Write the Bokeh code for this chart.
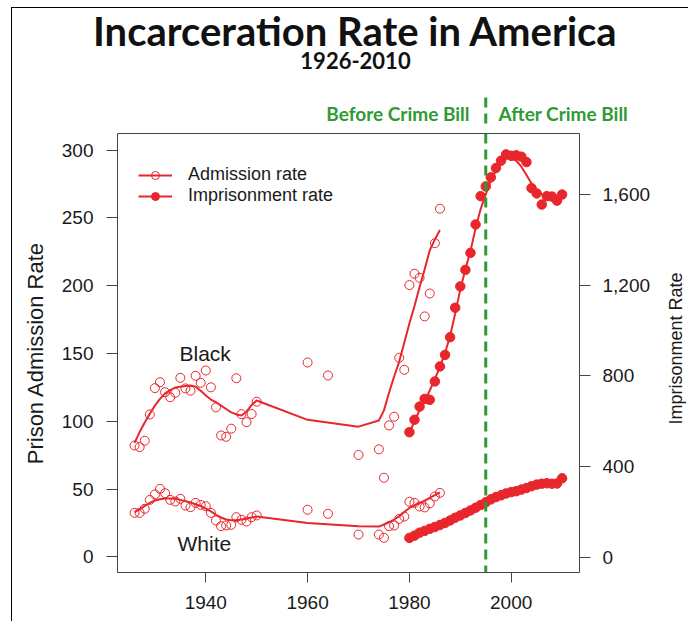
import math
from bokeh.plotting import figure
from bokeh.layouts import column, row
from bokeh.models import (Range1d, LinearAxis, FixedTicker, NumeralTickFormatter,
                          Label, Span, Legend, LegendItem)
from bokeh.embed import file_html
from bokeh.resources import INLINE

# ---------------- data ----------------
adm_years = [1926, 1927, 1928, 1929, 1930, 1931, 1932, 1933, 1934, 1935, 1936, 1937, 1938,
             1939, 1940, 1941, 1942, 1943, 1944, 1945, 1946, 1947, 1948, 1949, 1950,
             1960, 1964, 1970, 1974, 1975, 1976, 1977, 1978, 1979, 1980, 1981, 1982,
             1983, 1984, 1985, 1986]
black_adm = [82.1, 80.9, 85.6, 105.0, 124.4, 128.8, 121.4, 117.7, 121.0, 132.0, 124.2, 122.5, 133.5,
             128.3, 137.4, 125.0, 110.2, 89.5, 88.5, 94.5, 131.7, 105.2, 99.3, 105.3, 114.4,
             143.3, 133.7, 75.1, 79.3, 58.3, 96.9, 103.3, 146.8, 137.9, 200.4, 208.8, 205.8,
             177.3, 194.2, 231.3, 256.7]
white_adm = [32.4, 32.4, 35.4, 42.0, 46.0, 50.1, 46.9, 42.0, 40.8, 42.8, 37.8, 36.6, 39.8,
             38.3, 37.3, 32.4, 26.8, 22.6, 23.1, 23.6, 29.2, 27.3, 26.0, 29.2, 30.5,
             34.7, 31.7, 16.4, 16.4, 14.0, 22.6, 23.1, 28.0, 29.7, 40.6, 39.8, 37.1,
             36.4, 39.5, 44.5, 47.2]

fit_years = [1926, 1927, 1928, 1929, 1930, 1931, 1932, 1933, 1934, 1935, 1936, 1937, 1938,
             1939, 1940, 1941, 1942, 1943, 1944, 1945, 1946, 1947, 1948, 1949, 1950,
             1960, 1970, 1974, 1975, 1976, 1977, 1978, 1979, 1980, 1981, 1982, 1983,
             1984, 1985, 1986]
black_adm_fit = [84.0, 92.0, 99.0, 105.5, 111.5, 116.5, 120.5, 123.0, 124.8, 125.5, 126.0, 126.3, 125.5,
                 122.5, 119.0, 116.0, 114.0, 111.5, 109.0, 106.5, 105.0, 104.2, 107.0, 112.0, 115.3,
                 101.0, 96.0, 100.5, 108.0, 121.0, 133.0, 144.0, 158.0, 172.0, 185.0, 199.0, 212.0,
                 226.0, 234.0, 241.0]
white_adm_fit = [33.0, 35.0, 37.5, 39.8, 41.5, 42.5, 43.0, 43.0, 42.8, 42.0, 41.0, 40.0, 38.8,
                 37.5, 35.5, 33.5, 31.0, 29.0, 27.5, 27.0, 27.0, 27.5, 28.0, 29.0, 29.7,
                 25.0, 22.6, 22.3, 23.8, 25.5, 27.5, 30.0, 33.0, 36.0, 38.0, 39.5, 41.5,
                 43.5, 45.5, 47.5]

imp_years = [1980, 1981, 1982, 1983, 1984, 1985, 1986, 1987, 1988, 1989, 1990, 1991, 1992,
             1993, 1994, 1995, 1996, 1997, 1998, 1999, 2000, 2001, 2002, 2003, 2004, 2005,
             2006, 2007, 2008, 2009, 2010]
black_imp = [551, 606, 664, 698, 694, 775, 841, 892, 970, 1100, 1194, 1267, 1342,
             1467, 1592, 1635, 1675, 1716, 1748, 1776, 1770, 1772, 1766, 1742, 1627, 1604,
             1555, 1592, 1590, 1572, 1599]
black_imp_fit = [548, 600, 648, 690, 735, 785, 840, 900, 975, 1075, 1180, 1270, 1350,
                 1450, 1535, 1600, 1660, 1705, 1740, 1758, 1760, 1748, 1722, 1685, 1648, 1618,
                 1600, 1592, 1588, 1585, 1585]
white_imp = [85, 95, 108, 116, 125, 133, 142, 151, 162, 174, 184, 195, 206,
             218, 230, 242, 255, 265, 273, 281, 287, 291, 298, 305, 313, 320,
             324, 326, 324, 325, 348]

x_ticks = [1940, 1960, 1980, 2000]
left_ticks = [0, 50, 100, 150, 200, 250, 300]
right_ticks = [0, 400, 800, 1200, 1600]
crime_bill_year = 1995

title_text = "Incarceration Rate in America"
subtitle_text = "1926-2010"

# ---------------- styling / layout ----------------
RED = "#e8262c"
GREEN = "#2f9a34"
INK = "#1a1a1a"
AXC = "#444444"
SANS = "Liberation Sans"
HEAD = "Lato"

OX, OY = 12, 8            # content origin on the page (after margin + border)
PAGE_W, PAGE_H = 688, 621
FW = PAGE_W - OX          # full content width
TOP_H = 120               # height of the heading strip
MAIN_H = PAGE_H - OY - TOP_H
RS_W = 30                 # strip that holds the right axis title

X0, X1 = 1922.65, 2013.42
YL0, YL1 = -11.58, 312.2
YR0, YR1 = -67.5, 1868.2
FL, FR, FT, FB = 117, 579, 133, 572   # frame edges in page pixels
BASE = 0.4                # label anchor correction (fraction of font size)


def px_x(px):
    return X0 + (px - FL) * (X1 - X0) / (FR - FL)


def py_y(py):
    return YL0 + (FB - py) * (YL1 - YL0) / (FB - FT)


def bare(fig):
    fig.axis.visible = False
    fig.grid.visible = False
    fig.outline_line_color = None
    fig.title.visible = False
    fig.background_fill_color = "white"
    fig.border_fill_color = "white"
    if "frame_align" in fig.properties():
        fig.frame_align = False


# ---------------- heading strip (page pixel coordinates vertically) ----------------
top = figure(width=FW, height=TOP_H, output_backend="svg", toolbar_location=None,
             x_range=Range1d(px_x(OX), px_x(PAGE_W)),
             y_range=Range1d(OY + TOP_H, OY),
             min_border_left=0, min_border_right=0, min_border_top=0, min_border_bottom=0)
bare(top)

top.segment(x0=[crime_bill_year], y0=[97], x1=[crime_bill_year], y1=[OY + TOP_H + 2],
            line_color=GREEN, line_width=3, line_dash="10 6")
top.add_layout(Label(x=px_x(355), y=46 - BASE * 40, text=title_text, text_align="center",
                     text_baseline="alphabetic", text_font=HEAD, text_font_style="bold",
                     text_font_size="40px", text_color="#111111"))
top.add_layout(Label(x=px_x(355), y=69 - BASE * 22, text=subtitle_text, text_align="center",
                     text_baseline="alphabetic", text_font=HEAD, text_font_style="bold",
                     text_font_size="22px", text_color="#111111"))
top.add_layout(Label(x=px_x(469), y=121 - BASE * 19, text="Before Crime Bill",
                     text_align="right", text_baseline="alphabetic", text_font=HEAD,
                     text_font_style="bold", text_font_size="19px", text_color=GREEN))
top.add_layout(Label(x=px_x(498), y=121 - BASE * 19, text="After Crime Bill",
                     text_align="left", text_baseline="alphabetic", text_font=HEAD,
                     text_font_style="bold", text_font_size="19px", text_color=GREEN))

# ---------------- main chart ----------------
main_top = OY + TOP_H
p = figure(width=FW - RS_W, height=MAIN_H, output_backend="svg", toolbar_location=None,
           x_range=Range1d(X0, X1), y_range=Range1d(YL0, YL1),
           min_border_left=FL - OX, min_border_right=PAGE_W - RS_W - FR,
           min_border_top=FT - main_top, min_border_bottom=PAGE_H - FB)
p.title.visible = False
p.extra_y_ranges = {"imp": Range1d(YR0, YR1)}
p.xgrid.grid_line_color = None
p.ygrid.grid_line_color = None
p.outline_line_color = AXC
p.outline_line_width = 1
p.outline_line_alpha = 1
p.background_fill_color = "white"
p.border_fill_color = "white"
if "frame_align" in p.properties():
    p.frame_align = False

right = LinearAxis(y_range_name="imp")
p.add_layout(right, "right")

for ax in [p.xaxis[0], p.yaxis[0], right]:
    ax.axis_line_color = None
    ax.major_tick_line_color = AXC
    ax.major_tick_in = 0
    ax.major_tick_out = 11
    ax.minor_tick_line_color = None
    ax.major_label_text_font = SANS
    ax.major_label_text_font_size = "19px"
    ax.major_label_text_color = INK
    ax.axis_label_text_font = SANS
    ax.axis_label_text_font_style = "normal"
    ax.axis_label_text_color = INK

p.xaxis[0].ticker = FixedTicker(ticks=x_ticks)
p.xaxis[0].major_tick_out = 10
p.xaxis[0].major_label_standoff = 13

p.yaxis[0].ticker = FixedTicker(ticks=left_ticks)
p.yaxis[0].major_label_standoff = 13
p.yaxis[0].axis_label = "Prison Admission Rate"
p.yaxis[0].axis_label_text_font_size = "22px"
p.yaxis[0].axis_label_standoff = 11

right.ticker = FixedTicker(ticks=right_ticks)
right.formatter = NumeralTickFormatter(format="0,0")
right.major_label_standoff = 12

# marks
b_pts = p.scatter(adm_years, black_adm, marker="circle", size=9, fill_color=None,
                  line_color=RED, line_width=1)
w_pts = p.scatter(adm_years, white_adm, marker="circle", size=9, fill_color=None,
                  line_color=RED, line_width=1)
b_fit = p.line(fit_years, black_adm_fit, line_color=RED, line_width=2)
w_fit = p.line(fit_years, white_adm_fit, line_color=RED, line_width=2)

bi_fit = p.line(imp_years, black_imp_fit, line_color=RED, line_width=2, y_range_name="imp")
bi_pts = p.scatter(imp_years, black_imp, marker="circle", size=9.5, fill_color=RED,
                   line_color=RED, y_range_name="imp")
wi_pts = p.scatter(imp_years, white_imp, marker="circle", size=9.5, fill_color=RED,
                   line_color=RED, y_range_name="imp")

p.add_layout(Span(location=crime_bill_year, dimension="height", line_color=GREEN,
                  line_width=3, line_dash="10 6"))

p.add_layout(Label(x=px_x(179), y=py_y(361 - BASE * 21), text="Black", text_align="left",
                   text_baseline="alphabetic", text_font=SANS, text_font_size="21px",
                   text_color=INK))
p.add_layout(Label(x=px_x(177), y=py_y(551 - BASE * 21), text="White", text_align="left",
                   text_baseline="alphabetic", text_font=SANS, text_font_size="21px",
                   text_color=INK))

legend = Legend(items=[LegendItem(label="Admission rate", renderers=[b_fit, b_pts]),
                       LegendItem(label="Imprisonment rate", renderers=[bi_fit, bi_pts])],
                location=(21, (FB - FT) - 31 - 42), margin=0, padding=0,
                border_line_color=None, background_fill_alpha=0,
                glyph_width=34, glyph_height=20, label_height=20, label_standoff=16,
                spacing=0, label_text_font=SANS, label_text_font_size="18px",
                label_text_color=INK)
p.add_layout(legend)

# ---------------- strip with the right axis title ----------------
rs_left = PAGE_W - RS_W
rs = figure(width=RS_W, height=MAIN_H, output_backend="svg", toolbar_location=None,
            x_range=Range1d(rs_left, PAGE_W), y_range=Range1d(PAGE_H, main_top),
            min_border_left=0, min_border_right=0, min_border_top=0, min_border_bottom=0)
bare(rs)
rs.add_layout(Label(x=675, y=348, text="Imprisonment Rate", angle=math.pi / 2,
                    text_align="center", text_baseline="middle", text_font=SANS,
                    text_font_size="18px", text_color=INK))

layout = column(top, row(p, rs, spacing=0), spacing=0, margin=(OY - 1, 0, 0, OX - 1),
                styles={"border-left": "1px solid #000000", "border-top": "1px solid #000000"})

open("out.html", "w").write(file_html(layout, INLINE))
